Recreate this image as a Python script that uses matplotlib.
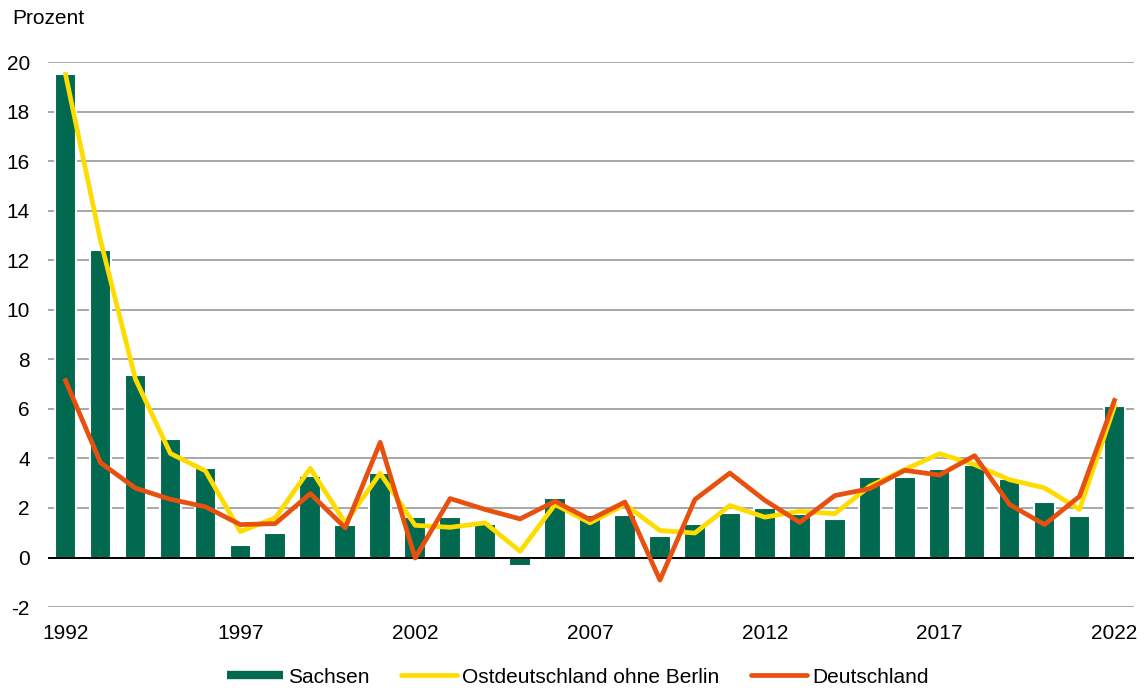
import numpy as np
import matplotlib
matplotlib.use("Agg")
import matplotlib.pyplot as plt
from matplotlib.lines import Line2D

plt.rcParams['font.family'] = ['Liberation Sans', 'DejaVu Sans']
plt.rcParams['axes.unicode_minus'] = False

# Data (Prozent)
years = list(range(1992, 2023))
sachsen = [19.5, 12.4, 7.35, 4.8, 3.6, 0.5, 1.0, 3.3, 1.3, 3.4,
           1.65, 1.65, 1.35, -0.35, 2.4, 1.7, 1.7, 0.85, 1.37, 1.8,
           1.99, 1.77, 1.57, 3.27, 3.24, 3.59, 3.75, 3.17, 2.23, 1.67,
           6.1]
ost_ohne_berlin = [19.5, 12.8, 7.2, 4.2, 3.5, 1.05, 1.6, 3.6, 1.4, 3.4,
                   1.3, 1.22, 1.4, 0.25, 2.14, 1.4, 2.14, 1.09, 0.99, 2.1,
                   1.63, 1.87, 1.77, 2.88, 3.55, 4.19, 3.75, 3.14, 2.81, 1.94,
                   6.1]
deutschland = [7.14, 3.83, 2.8, 2.35, 2.05, 1.33, 1.37, 2.58, 1.2, 4.65,
               -0.02, 2.38, 1.94, 1.56, 2.27, 1.53, 2.24, -0.91, 2.34, 3.41,
               2.31, 1.42, 2.5, 2.78, 3.52, 3.33, 4.11, 2.14, 1.33, 2.47,
               6.34]
xtick_years = [1992, 1997, 2002, 2007, 2012, 2017, 2022]
yticks = list(range(-2, 21, 2))

green = '#00694F'
yellow = '#FFDC00'
orange = '#E8500F'

fig = plt.figure(figsize=(11.44, 6.97), dpi=100)
ax = fig.add_axes([0.042, 0.129, 0.949, 0.782])

ax.bar(years, sachsen, width=0.62, color=green, edgecolor='white',
       linewidth=1.5, zorder=3)
ax.plot(years, ost_ohne_berlin, color=yellow, lw=3.4, zorder=5)
ax.plot(years, deutschland, color=orange, lw=3.4, zorder=6)

ax.set_xlim(1991.5, 2022.55)
ax.set_ylim(-2, 20)
ax.set_yticks(yticks)
ax.set_xticks(xtick_years)
ax.grid(axis='y', color='#999999', lw=1.2, zorder=0)
ax.axhline(0, color='black', lw=1.4, zorder=4)
for s in ax.spines.values():
    s.set_visible(False)
ax.tick_params(axis='both', length=0, labelsize=15)
ax.tick_params(axis='y', pad=13)
ax.tick_params(axis='x', pad=12)

fig.text(0.011, 0.974, 'Prozent', fontsize=15, va='center', ha='left')

handles = [
    Line2D([], [], color=green, lw=6, solid_capstyle='butt'),
    Line2D([], [], color=yellow, lw=3.4, solid_capstyle='round'),
    Line2D([], [], color=orange, lw=3.4, solid_capstyle='round'),
]
labels = ['Sachsen', 'Ostdeutschland ohne Berlin', 'Deutschland']
fig.legend(handles, labels, loc='lower center', bbox_to_anchor=(0.505, -0.012),
           ncol=3, frameon=False, fontsize=15, handlelength=2.7,
           handletextpad=0.25, columnspacing=1.5)

fig.savefig('out.png', dpi=100)
